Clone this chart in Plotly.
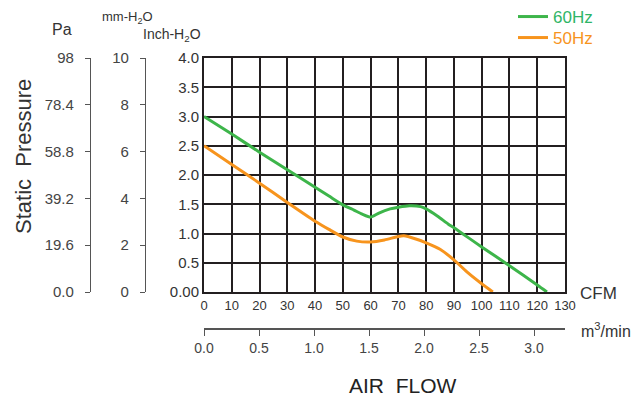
import plotly.graph_objects as go

# ---- data ----
cfm_60 = [0, 10, 20, 30, 40, 45, 50, 54, 57, 60, 63, 67, 70, 74, 78, 80, 84, 88, 90, 100, 110, 120, 123.5]
p_60 = [3.0, 2.7, 2.39, 2.09, 1.79, 1.64, 1.49, 1.40, 1.33, 1.28, 1.35, 1.42, 1.45, 1.475, 1.46, 1.42, 1.30, 1.16, 1.10, 0.77, 0.45, 0.12, 0.0]

cfm_50 = [0, 10, 20, 30, 40, 45, 50, 55, 60, 65, 70, 72, 76, 80, 85, 90, 95, 100, 104]
p_50 = [2.5, 2.18, 1.86, 1.53, 1.21, 1.07, 0.94, 0.87, 0.855, 0.89, 0.95, 0.96, 0.91, 0.84, 0.73, 0.55, 0.33, 0.14, 0.0]

inch_ticks = [0, 0.5, 1.0, 1.5, 2.0, 2.5, 3.0, 3.5, 4.0]
inch_labels = ["0.00", "0.5", "1.0", "1.5", "2.0", "2.5", "3.0", "3.5", "4.0"]
pa_ticks = [0, 19.6, 39.2, 58.8, 78.4, 98]
pa_labels = ["0.0", "19.6", "39.2", "58.8", "78.4", "98"]
mm_ticks = [0, 2, 4, 6, 8, 10]
cfm_ticks = list(range(0, 131, 10))
m3_ticks = [0, 0.5, 1.0, 1.5, 2.0, 2.5, 3.0]
m3_labels = ["0.0", "0.5", "1.0", "1.5", "2.0", "2.5", "3.0"]

GREEN = "#3db54a"
GREEN_T = "#2fb566"
ORANGE = "#f7941d"
DARK = "#231f20"
GREY = "#555555"
FONT = "Liberation Sans, Arial, sans-serif"

# pixel helpers for layout placement (screen coords; paper area spans x 20..570, y 58..360)
def PX(px):
    return (px - 20) / 550.0

def PY(py):
    return (360 - py) / 302.0

fig = go.Figure()
fig.add_trace(go.Scatter(x=cfm_60, y=p_60, mode="lines", name=f"<span style='color:{GREEN_T}'>60Hz</span>",
                         legend="legend",
                         line=dict(color=GREEN, width=3, shape="spline", smoothing=0.6)))
fig.add_trace(go.Scatter(x=cfm_50, y=p_50, mode="lines", name=f"<span style='color:{ORANGE}'>50Hz</span>",
                         legend="legend2",
                         line=dict(color=ORANGE, width=3, shape="spline", smoothing=0.6)))
# empty carrier traces so the secondary unit axes are drawn
for xa, ya in [("x", "y2"), ("x", "y3"), ("x2", "y")]:
    fig.add_trace(go.Scatter(x=[], y=[], xaxis=xa, yaxis=ya, showlegend=False, hoverinfo="skip"))

leg_common = dict(xanchor="left", yanchor="middle", font=dict(size=17),
                  bgcolor="rgba(0,0,0,0)", itemwidth=30)

fig.update_layout(
    width=640, height=400, autosize=False,
    margin=dict(l=12, r=78, t=50, b=48, autoexpand=False),
    paper_bgcolor="white", plot_bgcolor="white",
    font=dict(family=FONT, color="#333333"),
    showlegend=True,
    legend=dict(x=PX(513), y=PY(17), **leg_common),
    legend2=dict(x=PX(513), y=PY(38), **leg_common),
    xaxis=dict(domain=[PX(204), PX(565)], range=[0, 130], tickvals=cfm_ticks,
               showgrid=True, gridcolor=DARK, gridwidth=1.5, zeroline=False,
               showline=True, mirror=True, linecolor=DARK, linewidth=2,
               ticks="", tickfont=dict(size=13, color="#333")),
    yaxis=dict(domain=[PY(292), 1], range=[0, 4], tickvals=inch_ticks, ticktext=inch_labels,
               showgrid=True, gridcolor=DARK, gridwidth=1.5, zeroline=False,
               showline=True, mirror=True, linecolor=DARK, linewidth=2,
               ticks="", tickfont=dict(size=15, color="#333")),
    yaxis2=dict(overlaying="y", anchor="free", position=PX(90), side="left",
                range=[0, 98], tickvals=pa_ticks, ticktext=pa_labels,
                showgrid=False, zeroline=False, showline=True, linecolor=GREY, linewidth=1.2,
                ticks="outside", ticklen=5, tickcolor=GREY, tickwidth=1.2,
                ticklabelstandoff=8, tickfont=dict(size=15, color="#444")),
    yaxis3=dict(overlaying="y", anchor="free", position=PX(145), side="left",
                range=[0, 10], tickvals=mm_ticks,
                showgrid=False, zeroline=False, showline=True, linecolor=GREY, linewidth=1.2,
                ticks="outside", ticklen=5, tickcolor=GREY, tickwidth=1.2,
                ticklabelstandoff=8, tickfont=dict(size=15, color="#444")),
    xaxis2=dict(overlaying="x", anchor="free", position=PY(329), side="bottom",
                range=[0, 3.2818], tickvals=m3_ticks, ticktext=m3_labels,
                showgrid=False, zeroline=False, showline=True, linecolor=GREY, linewidth=1.5,
                ticks="outside", ticklen=6, tickcolor=GREY, tickwidth=1.2,
                tickfont=dict(size=14, color="#444")),
)

annotations = [
    dict(text="CFM", x=PX(598), y=PY(293), font=dict(size=17, color="#333")),
    dict(text="m<sup>3</sup>/min", x=PX(606), y=PY(330), font=dict(size=16, color="#333")),
    dict(text="AIR\u00a0 FLOW", x=PX(403), y=PY(385), font=dict(size=21, color="#222")),
    dict(text="Static\u00a0 Pressure", x=PX(23), y=PY(157), textangle=-90, font=dict(size=22, color="#333")),
    dict(text="Pa", x=PX(62), y=PY(30), font=dict(size=16, color="#333")),
    dict(text="mm-H<sub>2</sub>O", x=PX(127), y=PY(17), font=dict(size=13, color="#333")),
    dict(text="Inch-H<sub>2</sub>O", x=PX(172), y=PY(35), font=dict(size=14, color="#333")),
]
for a in annotations:
    a.update(xref="paper", yref="paper", showarrow=False, xanchor="center", yanchor="middle")
fig.update_layout(annotations=annotations)

fig.write_html("out.html")
